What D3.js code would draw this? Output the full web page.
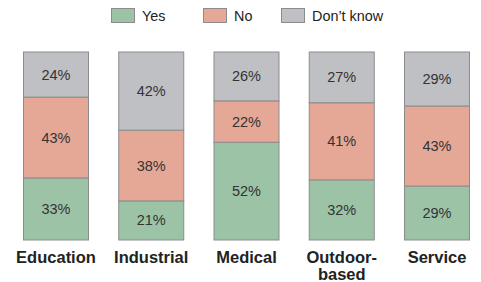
<!DOCTYPE html>
<html><head><meta charset="utf-8">
<script src="https://cdn.jsdelivr.net/npm/d3@7"></script>
<style>body{margin:0;background:#fff}svg{display:block}text{font-family:"Liberation Sans",Arial,Helvetica,sans-serif}</style>
</head><body><svg id="c" width="481" height="282"></svg>
<script>
const categories = ["Education","Industrial","Medical","Outdoor-based","Service"];
const seriesNames = ["Yes","No","Don\u2019t know"];
const yes = [33,21,52,32,29];
const no = [43,38,22,41,43];
const dontKnow = [24,42,26,27,29];
const colors = ["#9cc3a6","#e5a896","#bfc0c4"];

const svg = d3.select("#c");
const rows = categories.map((c,i)=>{const t=yes[i]+no[i]+dontKnow[i];return {cat:c,total:t,Yes:yes[i]/t,No:no[i]/t,"Don\u2019t know":dontKnow[i]/t,raw:[yes[i],no[i],dontKnow[i]]};});
const stack = d3.stack().keys(seriesNames)(rows);

const x = d3.scaleBand().domain(categories).range([23,470]).paddingInner(0.307).paddingOuter(0);
const y = d3.scaleLinear().domain([0,1]).range([240,52]);

const g = svg.append("g");
stack.forEach((s,si)=>{
  g.selectAll(null).data(s).enter().append("rect")
   .attr("x",d=>x(d.data.cat)+0.5).attr("width",x.bandwidth()-1)
   .attr("y",d=>y(d[1])).attr("height",d=>y(d[0])-y(d[1]))
   .attr("fill",colors[si]).attr("stroke","#8c8c8c").attr("stroke-width",1);
  g.selectAll(null).data(s).enter().append("text")
   .attr("x",d=>x(d.data.cat)+x.bandwidth()/2)
   .attr("y",d=>(y(d[0])+y(d[1]))/2+5)
   .attr("text-anchor","middle").attr("font-size",14.5).attr("fill","#333")
   .text(d=>d.data.raw[si]+"%");
});

// category labels
categories.forEach(c=>{
  const parts = c==="Outdoor-based"?["Outdoor-","based"]:[c];
  const t = svg.append("text").attr("x",x(c)+x.bandwidth()/2).attr("y",263)
    .attr("text-anchor","middle").attr("font-size",16.5).attr("font-weight","bold").attr("fill","#222");
  parts.forEach((p,i)=>t.append("tspan").attr("x",x(c)+x.bandwidth()/2).attr("dy",i?17:0).text(p));
});

// legend
const legX = [111,203,281];
seriesNames.forEach((n,i)=>{
  svg.append("rect").attr("x",legX[i]+0.5).attr("y",8.5).attr("width",23).attr("height",14)
    .attr("fill",colors[i]).attr("stroke","#8c8c8c");
  svg.append("text").attr("x",legX[i]+31).attr("y",21).attr("font-size",14.4).attr("fill","#222").text(n);
});
</script></body></html>
